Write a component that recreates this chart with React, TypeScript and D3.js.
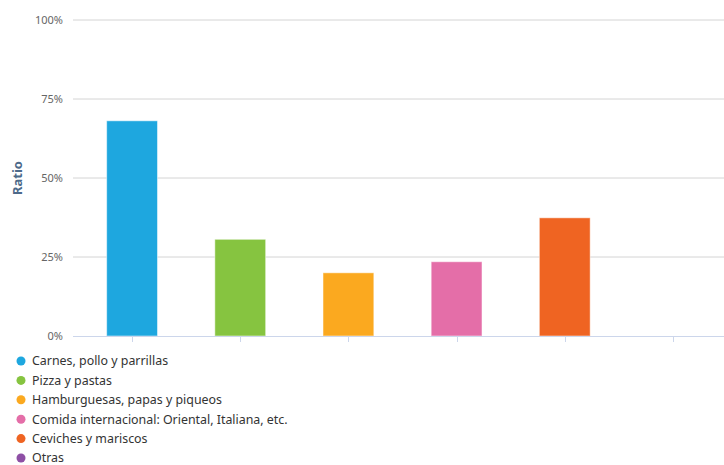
import React from "react";
import * as d3 from "d3";

const categories = [
  "Carnes, pollo y parrillas",
  "Pizza y pastas",
  "Hamburguesas, papas y piqueos",
  "Comida internacional: Oriental, Italiana, etc.",
  "Ceviches y mariscos",
  "Otras",
];
const values = [68.1, 30.6, 20.0, 23.5, 37.4, 0];
const colors = ["#1ea7df", "#86c440", "#fba91f", "#e46ea8", "#ef6422", "#8e4fa5"];
const yTicks = [0, 25, 50, 75, 100];

const W = 724;
const H = 465;

export default function App() {
  const x = d3.scaleBand<string>().domain(categories).range([78, 727]).paddingInner(0.53).paddingOuter(0.265);
  const xb = d3.scaleBand<string>().domain(categories).range([78, 727]);
  const y = d3.scaleLinear().domain([0, 100]).range([336, 20]);
  const font = "'Noto Sans', 'Open Sans', sans-serif";
  return (
    <svg width={W} height={H} style={{ position: "absolute", left: 0, top: 0, background: "#fff" }}>
      {yTicks.map((t) => (
        <g key={t}>
          {t > 0 && <line x1={73} x2={724} y1={y(t)} y2={y(t)} stroke="#d4d4d4" strokeWidth={1} />}
          <text x={63} y={y(t)} dy="0.35em" textAnchor="end" fontSize={11} fill="#666" fontFamily={font}>
            {t}%
          </text>
        </g>
      ))}
      <text
        transform={`translate(22,${y(50)}) rotate(-90)`}
        textAnchor="middle"
        fontSize={13}
        fontWeight="bold"
        fill="#4d6a8a"
        fontFamily={font}
      >
        Ratio
      </text>
      {categories.map((c, i) => (
        <rect
          key={c}
          x={x(c)!}
          width={x.bandwidth()}
          y={y(values[i])}
          height={y(0) - y(values[i])}
          fill={colors[i]}
          stroke="#fff"
          strokeOpacity={0.5}
          strokeWidth={1}
        />
      ))}
      <line x1={73} x2={724} y1={336.5} y2={336.5} stroke="#ccd6eb" strokeWidth={1} />
      {categories.map((c) => {
        const cx = Math.round(xb(c)! + xb.bandwidth() / 2) + 0.5;
        return <line key={c} x1={cx} x2={cx} y1={337} y2={342} stroke="#ccd6eb" />;
      })}
      {categories.map((c, i) => (
        <g key={c} transform={`translate(0,${361 + i * 19.4})`}>
          <circle cx={21} cy={0} r={4.5} fill={colors[i]} />
          <text x={32} y={0} dy="0.35em" fontSize={12.4} fill="#333" fontFamily={font}>
            {c}
          </text>
        </g>
      ))}
    </svg>
  );
}
